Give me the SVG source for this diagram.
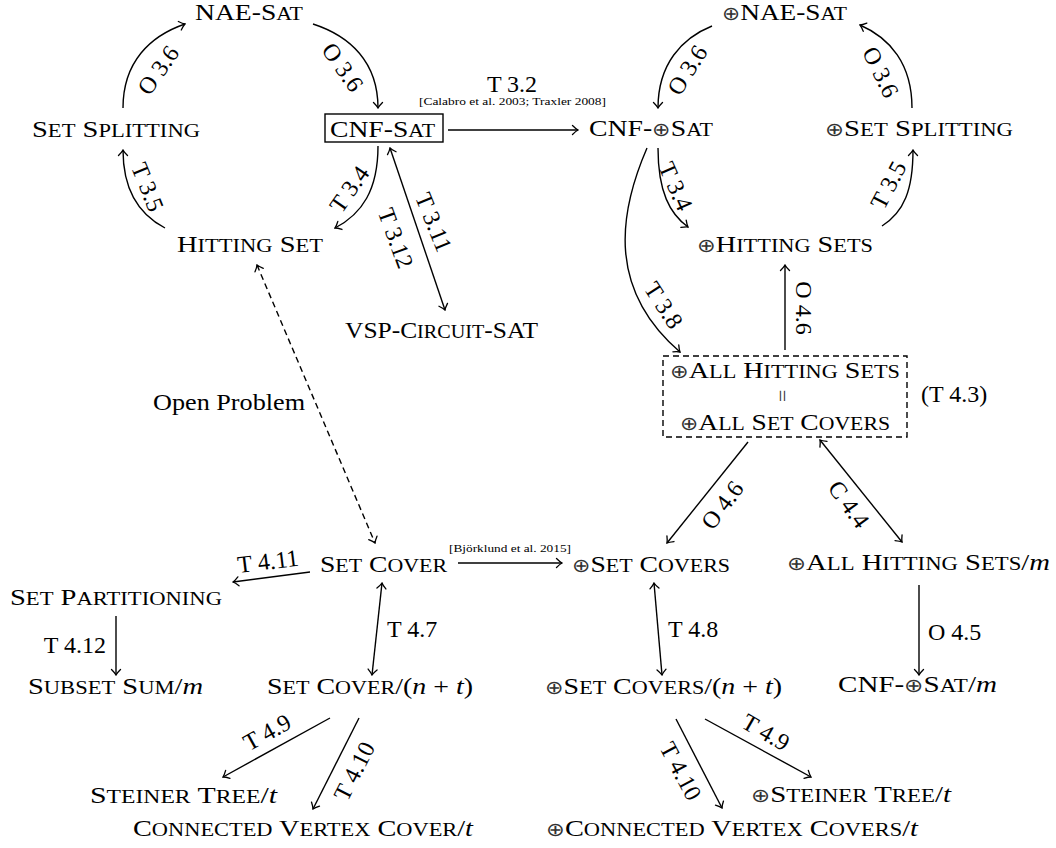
<svg xmlns="http://www.w3.org/2000/svg" width="1056" height="848" viewBox="0 0 1056 848">
<style>
  text { font-family: "Liberation Serif", "DejaVu Serif", serif; fill: #000; }
  .n { font-size: 24px; }
  .sc { font-size: 19px; }
  .op { font-family: "DejaVu Sans", sans-serif; font-weight: 200; font-size: 19px; fill: #333; }
  .it { font-style: italic; }
  .l { font-size: 24px; }
  .cite { font-size: 11px; }
  .e { fill: none; stroke: #000; stroke-width: 1.4; }
  .d { stroke-dasharray: 6 4; }
</style>
<defs>
  <marker id="ah" viewBox="-7 -6 8 12" refX="0" refY="0" markerWidth="8" markerHeight="12" markerUnits="userSpaceOnUse" orient="auto-start-reverse">
    <path d="M-5.5,-4.5 Q-2,-1 0,0 Q-2,1 -5.5,4.5" fill="none" stroke="#000" stroke-width="1.3" stroke-linecap="round"/>
  </marker>
</defs>
<rect width="1056" height="848" fill="#fff"/>

<g id="connectors">
  <!-- left cycle -->
  <path class="e" d="M123,108 C123,62 150,36 185,24" marker-end="url(#ah)"/>
  <path class="e" d="M313,24 C350,36 378,62 378,108" marker-end="url(#ah)"/>
  <path class="e" d="M378,146 C378,190 362,214 335,228" marker-end="url(#ah)"/>
  <path class="e" d="M165,228 C138,214 123,190 123,150" marker-end="url(#ah)"/>
  <text class="l" transform="translate(158,70) rotate(-55)" text-anchor="middle" dy="0.35em">O 3.6</text>
  <text class="l" transform="translate(343,67) rotate(55)" text-anchor="middle" dy="0.35em">O 3.6</text>
  <text class="l" transform="translate(349,189) rotate(-55)" text-anchor="middle" dy="0.35em">T 3.4</text>
  <text class="l" transform="translate(148,187) rotate(68)" text-anchor="middle" dy="0.35em">T 3.5</text>

  <!-- CNF-Sat to CNF-xorSat -->
  <path class="e" d="M448,130 L578,130" marker-end="url(#ah)"/>
  <text class="l" x="512" y="92" text-anchor="middle">T 3.2</text>
  <text class="cite" x="419" y="105" textLength="187" lengthAdjust="spacingAndGlyphs">[Calabro et al. 2003; Traxler 2008]</text>

  <!-- CNF-Sat <-> VSP -->
  <path class="e" d="M390,148 L445,310" marker-start="url(#ah)" marker-end="url(#ah)"/>
  <text class="l" transform="translate(434,222) rotate(68)" text-anchor="middle" dy="0.35em">T 3.11</text>
  <text class="l" transform="translate(396,238) rotate(70)" text-anchor="middle" dy="0.35em">T 3.12</text>

  <!-- right cycle -->
  <path class="e" d="M712,26 C682,38 658,64 658,108" marker-end="url(#ah)"/>
  <path class="e" d="M912,108 C912,64 890,38 860,25" marker-end="url(#ah)"/>
  <path class="e" d="M658,148 C658,192 670,214 688,227" marker-end="url(#ah)"/>
  <path class="e" d="M882,226 C904,212 913,190 913,150" marker-end="url(#ah)"/>
  <text class="l" transform="translate(687,70) rotate(-58)" text-anchor="middle" dy="0.35em">O 3.6</text>
  <text class="l" transform="translate(881,72) rotate(64)" text-anchor="middle" dy="0.35em">O 3.6</text>
  <text class="l" transform="translate(676,186) rotate(66)" text-anchor="middle" dy="0.35em">T 3.4</text>
  <text class="l" transform="translate(888,185) rotate(-62)" text-anchor="middle" dy="0.35em">T 3.5</text>

  <!-- T 3.8 -->
  <path class="e" d="M647,148 C618,215 608,290 680,352" marker-end="url(#ah)"/>
  <text class="l" transform="translate(664,305) rotate(57)" text-anchor="middle" dy="0.35em">T 3.8</text>

  <!-- O 4.6 vertical -->
  <path class="e" d="M785,350 L785,265" marker-end="url(#ah)"/>
  <text class="l" transform="translate(804,308) rotate(90)" text-anchor="middle" dy="0.35em">O 4.6</text>

  <!-- O 4.6 lower -->
  <path class="e" d="M748,442 L667,543" marker-end="url(#ah)"/>
  <text class="l" transform="translate(722,505) rotate(-53)" text-anchor="middle" dy="0.35em">O 4.6</text>

  <!-- C 4.4 -->
  <path class="e" d="M820,440 L902,542" marker-start="url(#ah)" marker-end="url(#ah)"/>
  <text class="l" transform="translate(849,504) rotate(54)" text-anchor="middle" dy="0.35em">C 4.4</text>

  <!-- Open problem -->
  <path class="e d" d="M257,265 L375,543" marker-start="url(#ah)" marker-end="url(#ah)"/>
  <text class="l" x="153" y="410" textLength="152" lengthAdjust="spacingAndGlyphs">Open Problem</text>

  <!-- Set Cover -> xor Set Covers -->
  <path class="e" d="M458,563 L562,563" marker-end="url(#ah)"/>
  <text class="cite" x="449" y="552" textLength="122" lengthAdjust="spacingAndGlyphs">[Björklund et al. 2015]</text>

  <!-- T 4.11 -->
  <path class="e" d="M310,572 L233,582" marker-end="url(#ah)"/>
  <text class="l" transform="translate(268,561) rotate(-7)" text-anchor="middle" dy="0.35em">T 4.11</text>

  <!-- T 4.12 -->
  <path class="e" d="M116,616 L116,675" marker-end="url(#ah)"/>
  <text class="l" x="106" y="653" text-anchor="end">T 4.12</text>

  <!-- T 4.7 -->
  <path class="e" d="M382,583 L372,675" marker-start="url(#ah)" marker-end="url(#ah)"/>
  <text class="l" x="387" y="637">T 4.7</text>

  <!-- T 4.8 -->
  <path class="e" d="M654,583 L662,675" marker-start="url(#ah)" marker-end="url(#ah)"/>
  <text class="l" x="668" y="637">T 4.8</text>

  <!-- O 4.5 -->
  <path class="e" d="M919,585 L919,675" marker-end="url(#ah)"/>
  <text class="l" x="928" y="640">O 4.5</text>

  <!-- bottom left -->
  <path class="e" d="M330,718 L223,777" marker-end="url(#ah)"/>
  <text class="l" transform="translate(267,732) rotate(-29)" text-anchor="middle" dy="0.35em">T 4.9</text>
  <path class="e" d="M359,718 L313,809" marker-end="url(#ah)"/>
  <text class="l" transform="translate(354,771) rotate(-63)" text-anchor="middle" dy="0.35em">T 4.10</text>

  <!-- bottom right -->
  <path class="e" d="M676,719 L722,808" marker-end="url(#ah)"/>
  <text class="l" transform="translate(681,771) rotate(62)" text-anchor="middle" dy="0.35em">T 4.10</text>
  <path class="e" d="M705,719 L811,777" marker-end="url(#ah)"/>
  <text class="l" transform="translate(766,732) rotate(30)" text-anchor="middle" dy="0.35em">T 4.9</text>
</g>

<g id="nae-sat"><text class="n" x="195" y="20" textLength="108" lengthAdjust="spacingAndGlyphs">NAE-S<tspan class="sc">AT</tspan></text></g>
<g id="set-splitting"><text class="n" x="32" y="137" textLength="168" lengthAdjust="spacingAndGlyphs">S<tspan class="sc">ET</tspan> S<tspan class="sc">PLITTING</tspan></text></g>
<g id="cnf-sat">
  <rect x="325" y="114" width="118" height="28" fill="none" stroke="#000" stroke-width="1.4"/>
  <text class="n" x="330" y="137" textLength="105" lengthAdjust="spacingAndGlyphs">CNF-S<tspan class="sc">AT</tspan></text>
</g>
<g id="hitting-set"><text class="n" x="177" y="252" textLength="146" lengthAdjust="spacingAndGlyphs">H<tspan class="sc">ITTING</tspan> S<tspan class="sc">ET</tspan></text></g>
<g id="vsp-circuit-sat"><text class="n" x="345" y="338" textLength="193" lengthAdjust="spacingAndGlyphs">VSP-C<tspan class="sc">IRCUIT</tspan>-SAT</text></g>

<g id="xnae-sat"><text class="n" x="722" y="20" textLength="125" lengthAdjust="spacingAndGlyphs"><tspan class="op">⊕</tspan>NAE-S<tspan class="sc">AT</tspan></text></g>
<g id="cnf-xsat"><text class="n" x="589" y="136" textLength="124" lengthAdjust="spacingAndGlyphs">CNF-<tspan class="op">⊕</tspan>S<tspan class="sc">AT</tspan></text></g>
<g id="xset-splitting"><text class="n" x="825" y="136" textLength="188" lengthAdjust="spacingAndGlyphs"><tspan class="op">⊕</tspan>S<tspan class="sc">ET</tspan> S<tspan class="sc">PLITTING</tspan></text></g>
<g id="xhitting-sets"><text class="n" x="697" y="252" textLength="176" lengthAdjust="spacingAndGlyphs"><tspan class="op">⊕</tspan>H<tspan class="sc">ITTING</tspan> S<tspan class="sc">ETS</tspan></text></g>

<g id="xall-box">
  <rect x="663" y="356" width="244" height="81" fill="none" stroke="#000" stroke-width="1.4" stroke-dasharray="6 4"/>
  <text class="n" x="670" y="378" textLength="230" lengthAdjust="spacingAndGlyphs"><tspan class="op">⊕</tspan>A<tspan class="sc">LL</tspan> H<tspan class="sc">ITTING</tspan> S<tspan class="sc">ETS</tspan></text>
  <text transform="translate(783,396) rotate(90)" text-anchor="middle" dy="0.35em" style="font-size:22px;fill:#333">=</text>
  <text class="n" x="680" y="430" textLength="210" lengthAdjust="spacingAndGlyphs"><tspan class="op">⊕</tspan>A<tspan class="sc">LL</tspan> S<tspan class="sc">ET</tspan> C<tspan class="sc">OVERS</tspan></text>
  <text class="l" x="921" y="402">(T 4.3)</text>
</g>

<g id="set-cover"><text class="n" x="320" y="572" textLength="127" lengthAdjust="spacingAndGlyphs">S<tspan class="sc">ET</tspan> C<tspan class="sc">OVER</tspan></text></g>
<g id="xset-covers"><text class="n" x="572" y="572" textLength="158" lengthAdjust="spacingAndGlyphs"><tspan class="op">⊕</tspan>S<tspan class="sc">ET</tspan> C<tspan class="sc">OVERS</tspan></text></g>
<g id="xall-hitting-sets-m"><text class="n" x="787" y="570" textLength="263" lengthAdjust="spacingAndGlyphs"><tspan class="op">⊕</tspan>A<tspan class="sc">LL</tspan> H<tspan class="sc">ITTING</tspan> S<tspan class="sc">ETS</tspan>/<tspan class="it">m</tspan></text></g>
<g id="set-partitioning"><text class="n" x="10" y="605" textLength="212" lengthAdjust="spacingAndGlyphs">S<tspan class="sc">ET</tspan> P<tspan class="sc">ARTITIONING</tspan></text></g>
<g id="subset-sum-m"><text class="n" x="28" y="694" textLength="175" lengthAdjust="spacingAndGlyphs">S<tspan class="sc">UBSET</tspan> S<tspan class="sc">UM</tspan>/<tspan class="it">m</tspan></text></g>
<g id="set-cover-nt"><text class="n" x="267" y="694" textLength="206" lengthAdjust="spacingAndGlyphs">S<tspan class="sc">ET</tspan> C<tspan class="sc">OVER</tspan>/(<tspan class="it">n</tspan> + <tspan class="it">t</tspan>)</text></g>
<g id="xset-covers-nt"><text class="n" x="545" y="694" textLength="237" lengthAdjust="spacingAndGlyphs"><tspan class="op">⊕</tspan>S<tspan class="sc">ET</tspan> C<tspan class="sc">OVERS</tspan>/(<tspan class="it">n</tspan> + <tspan class="it">t</tspan>)</text></g>
<g id="cnf-xsat-m"><text class="n" x="838" y="692" textLength="159" lengthAdjust="spacingAndGlyphs">CNF-<tspan class="op">⊕</tspan>S<tspan class="sc">AT</tspan>/<tspan class="it">m</tspan></text></g>
<g id="steiner-tree-t"><text class="n" x="90" y="803" textLength="187" lengthAdjust="spacingAndGlyphs">S<tspan class="sc">TEINER</tspan> T<tspan class="sc">REE</tspan>/<tspan class="it">t</tspan></text></g>
<g id="xsteiner-tree-t"><text class="n" x="751" y="802" textLength="200" lengthAdjust="spacingAndGlyphs"><tspan class="op">⊕</tspan>S<tspan class="sc">TEINER</tspan> T<tspan class="sc">REE</tspan>/<tspan class="it">t</tspan></text></g>
<g id="cvc-t"><text class="n" x="133" y="836" textLength="340" lengthAdjust="spacingAndGlyphs">C<tspan class="sc">ONNECTED</tspan> V<tspan class="sc">ERTEX</tspan> C<tspan class="sc">OVER</tspan>/<tspan class="it">t</tspan></text></g>
<g id="xcvc-t"><text class="n" x="546" y="836" textLength="372" lengthAdjust="spacingAndGlyphs"><tspan class="op">⊕</tspan>C<tspan class="sc">ONNECTED</tspan> V<tspan class="sc">ERTEX</tspan> C<tspan class="sc">OVERS</tspan>/<tspan class="it">t</tspan></text></g>
</svg>
